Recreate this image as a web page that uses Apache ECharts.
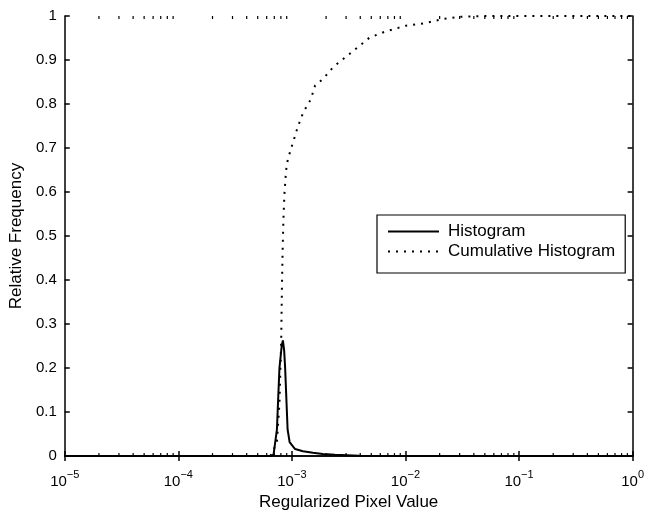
<!DOCTYPE html>
<html><head><meta charset="utf-8">
<script src="https://cdn.jsdelivr.net/npm/echarts@6/dist/echarts.min.js"></script>
<style>html,body{margin:0;padding:0;background:#fff}#c{width:647px;height:516px}</style>
</head><body><div id="c"></div>
<script>
// Histogram (regularized pixel value, relative frequency)
const histX = [1e-5, 6.45e-4, 6.89e-4, 7.38e-4, 7.77e-4, 8.13e-4, 8.33e-4, 8.55e-4, 8.72e-4, 9.17e-4, 9.55e-4, 1.067e-3, 1.253e-3, 1.53e-3, 1.875e-3, 2.39e-3, 3.94e-3, 8.83e-3, 1];
const histY = [0, 0, 0.003, 0.06, 0.2, 0.25, 0.263, 0.24, 0.2, 0.06, 0.032, 0.016, 0.011, 0.0075, 0.005, 0.003, 0.001, 0, 0];
// Cumulative histogram
const cumX = [6.45e-4, 7.38e-4, 7.77e-4, 8.05e-4, 8.17e-4, 8.29e-4, 8.43e-4, 8.59e-4, 8.77e-4, 9.0e-4, 9.77e-4, 1.03e-3, 1.127e-3, 1.26e-3, 1.47e-3, 1.6e-3, 1.88e-3, 2.31e-3, 3.34e-3, 4.83e-3, 6.53e-3, 1.01e-2, 1.51e-2, 2.11e-2, 2.95e-2, 5e-2, 1];
const cumY = [0, 0.03, 0.12, 0.261, 0.382, 0.469, 0.54, 0.594, 0.629, 0.663, 0.697, 0.715, 0.748, 0.781, 0.811, 0.842, 0.857, 0.884, 0.917, 0.951, 0.964, 0.978, 0.984, 0.993, 0.998, 1, 1];
// Axes
const xTickExponents = [-5, -4, -3, -2, -1, 0];
const minorMantissas = [2, 3, 4, 5, 6, 7, 8, 9];
const yMin = 0, yMax = 1, yStep = 0.1;
const seriesNames = ['Histogram', 'Cumulative Histogram'];
const xTitle = 'Regularized Pixel Value';
const yTitle = 'Relative Frequency';

const FONT = 'Liberation Sans, Arial, Helvetica, sans-serif';
const minorTicks = [];
xTickExponents.slice(0, -1).forEach(e => minorMantissas.forEach(m => minorTicks.push([m * Math.pow(10, e), 0])));

const chart = echarts.init(document.getElementById('c'), null, {renderer: 'canvas'});
const axisLine = {show: true, lineStyle: {color: '#000', width: 1.5}};
const tick = {show: true, inside: true, length: 5, lineStyle: {color: '#000', width: 1.5}};
chart.setOption({
  animation: false,
  backgroundColor: '#fff',
  grid: {left: 63, right: 12, top: 16, bottom: 52, containLabel: false},
  legend: {
    data: seriesNames, orient: 'vertical', left: 377, top: 215,
    borderColor: '#000', borderWidth: 1.2, backgroundColor: '#fff', borderRadius: 0,
    padding: [8, 10, 13, 10], itemWidth: 51, itemHeight: 14, itemGap: 3,
    itemStyle: {opacity: 0},
    textStyle: {fontSize: 17, lineHeight: 14, color: '#000', fontFamily: FONT, padding: [0, 0, 0, 4]}
  },
  xAxis: [{
    type: 'log', logBase: 10, min: Math.pow(10, xTickExponents[0]), max: Math.pow(10, xTickExponents[xTickExponents.length - 1]),
    splitNumber: 5, position: 'bottom',
    name: xTitle, nameLocation: 'middle', nameGap: 37,
    nameTextStyle: {fontSize: 17, color: '#000', fontFamily: FONT},
    axisLine: axisLine, axisTick: tick, splitLine: {show: false},
    axisLabel: {
      margin: 10, color: '#000', fontFamily: FONT,
      formatter: v => '{b|10}{s|' + String(Math.round(Math.log10(v))).replace('-', '\u2212') + '}',
      rich: {
        b: {fontSize: 15, fontFamily: FONT, color: '#000', padding: [8, 0, 0, 0]},
        s: {fontSize: 11, fontFamily: FONT, color: '#000', padding: [0, 0, 6, 0]}
      }
    }
  }, {
    type: 'log', logBase: 10, min: Math.pow(10, xTickExponents[0]), max: Math.pow(10, xTickExponents[xTickExponents.length - 1]),
    splitNumber: 5, position: 'top',
    axisLine: axisLine, axisTick: tick, axisLabel: {show: false}, splitLine: {show: false}
  }],
  yAxis: [{
    type: 'value', min: yMin, max: yMax, interval: yStep, position: 'left',
    name: yTitle, nameLocation: 'middle', nameGap: 36,
    nameTextStyle: {fontSize: 17, color: '#000', fontFamily: FONT},
    axisLine: axisLine, axisTick: tick, splitLine: {show: false},
    axisLabel: {fontSize: 15, color: '#000', fontFamily: FONT, margin: 8}
  }, {
    type: 'value', min: yMin, max: yMax, interval: yStep, position: 'right',
    axisLine: axisLine, axisTick: tick, axisLabel: {show: false}, splitLine: {show: false}
  }],
  series: [{
    name: seriesNames[0], type: 'line', symbol: 'none', smooth: false,
    data: histX.map((x, i) => [x, histY[i]]),
    lineStyle: {color: '#000', width: 2}, itemStyle: {color: '#000'}, z: 3
  }, {
    name: seriesNames[1], type: 'line', symbol: 'none', smooth: false,
    data: cumX.map((x, i) => [x, cumY[i]]),
    lineStyle: {color: '#000', width: 2, type: [2, 6]}, itemStyle: {color: '#000'}, z: 2
  }, {
    type: 'custom', silent: true, clip: false, z: 5,
    data: minorTicks,
    renderItem: function (params, api) {
      const v = api.value(0);
      const b = api.coord([v, yMin]);
      const t = api.coord([v, yMax]);
      return {type: 'group', children: [
        {type: 'line', shape: {x1: b[0], y1: b[1], x2: b[0], y2: b[1] - 3}, style: {stroke: '#000', lineWidth: 1.2}},
        {type: 'line', shape: {x1: t[0], y1: t[1], x2: t[0], y2: t[1] + 3}, style: {stroke: '#000', lineWidth: 1.2}}
      ]};
    }
  }]
});
</script>
</body></html>
